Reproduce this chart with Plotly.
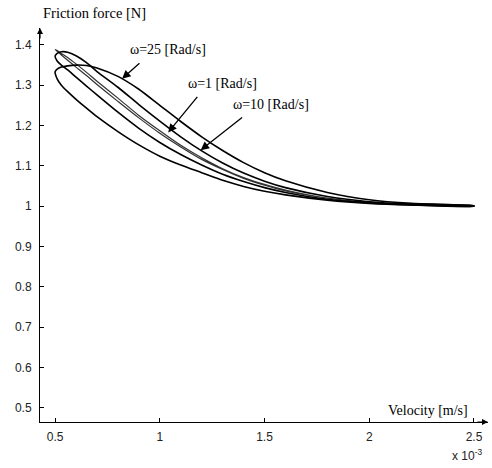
import plotly.graph_objects as go

# Velocity grid [x 1e-3 m/s] shared by all branches
V = [0.5, 0.51, 0.53, 0.56, 0.6, 0.65, 0.7, 0.8, 0.9, 1.0, 1.1, 1.2, 1.3, 1.4, 1.5, 1.6, 1.8, 2.0, 2.2, 2.5]

# Friction force [N] - accelerating (upper) and decelerating (lower) branches
W1_UP = [1.389, 1.386, 1.379, 1.369, 1.353, 1.332, 1.310, 1.268, 1.225, 1.187, 1.151, 1.120, 1.093, 1.071, 1.054, 1.040, 1.020, 1.009, 1.004, 1.001]
W1_LO = [1.389, 1.384, 1.375, 1.362, 1.345, 1.324, 1.302, 1.260, 1.219, 1.181, 1.147, 1.116, 1.091, 1.069, 1.052, 1.038, 1.020, 1.009, 1.004, 1.001]

W10_UP = [1.372, 1.379, 1.383, 1.382, 1.373, 1.356, 1.334, 1.295, 1.252, 1.211, 1.172, 1.137, 1.107, 1.082, 1.062, 1.046, 1.024, 1.011, 1.005, 1.001]
W10_LO = [1.372, 1.360, 1.350, 1.338, 1.320, 1.298, 1.276, 1.233, 1.193, 1.158, 1.128, 1.102, 1.079, 1.061, 1.046, 1.034, 1.017, 1.008, 1.003, 1.000]

W25_UP = [1.333, 1.340, 1.345, 1.348, 1.350, 1.349, 1.343, 1.322, 1.290, 1.250, 1.210, 1.172, 1.138, 1.108, 1.083, 1.063, 1.034, 1.016, 1.007, 1.001]
W25_LO = [1.333, 1.316, 1.300, 1.284, 1.265, 1.243, 1.222, 1.185, 1.152, 1.124, 1.102, 1.083, 1.064, 1.049, 1.037, 1.028, 1.015, 1.007, 1.003, 1.000]

X_TICKS = [0.5, 1.0, 1.5, 2.0, 2.5]
X_TICKTEXT = ["0.5", "1", "1.5", "2", "2.5"]
Y_TICKS = [0.5, 0.6, 0.7, 0.8, 0.9, 1.0, 1.1, 1.2, 1.3, 1.4]
Y_TICKTEXT = ["0.5", "0.6", "0.7", "0.8", "0.9", "1", "1.1", "1.2", "1.3", "1.4"]

LABELS = ["ω=25 [Rad/s]", "ω=1 [Rad/s]", "ω=10 [Rad/s]"]
# arrow tips on the curves (data coords) and label positions (data coords)
TIP_X = [0.82, 1.04, 1.195]
TIP_Y = [1.316, 1.183, 1.139]
LAB_X = [0.85, 1.125, 1.34]
LAB_Y = [1.388, 1.305, 1.253]

SERIF = "Liberation Serif, Times New Roman, serif"
SANS = "Liberation Sans, Arial, sans-serif"

fig = go.Figure()
for up, lo, w, c in [(W1_UP, W1_LO, 1.2, "#333"), (W10_UP, W10_LO, 1.6, "black"), (W25_UP, W25_LO, 1.6, "black")]:
    xs = V + V[::-1]
    ys = up + lo[::-1]
    fig.add_trace(go.Scatter(x=xs, y=ys, mode="lines",
                             line=dict(color=c, width=w, shape="spline", smoothing=0.7),
                             showlegend=False, hoverinfo="skip"))

annotations = []
for lab, tx, ty, lx, ly in zip(LABELS, TIP_X, TIP_Y, LAB_X, LAB_Y):
    annotations.append(dict(x=lx, y=ly, xref="x", yref="y", text=lab, showarrow=False,
                            xanchor="left", yanchor="middle",
                            font=dict(family=SERIF, size=14, color="black")))
    annotations.append(dict(x=tx, y=ty, xref="x", yref="y", ax=lx + 0.06, ay=ly - 0.03,
                            axref="x", ayref="y", text="", showarrow=True,
                            arrowhead=2, arrowsize=1.3, arrowwidth=1.3, arrowcolor="black"))

# axis arrows
annotations.append(dict(x=1, y=0, xref="paper", yref="paper", ax=-12, ay=0, text="",
                        showarrow=True, arrowhead=2, arrowsize=1, arrowwidth=1.2, arrowcolor="black"))
annotations.append(dict(x=0, y=1, xref="paper", yref="paper", ax=0, ay=12, text="",
                        showarrow=True, arrowhead=2, arrowsize=1, arrowwidth=1.2, arrowcolor="black"))
# axis titles
annotations.append(dict(x=0, y=1, xref="paper", yref="paper", text="Friction force [N]",
                        showarrow=False, xanchor="left", yanchor="bottom", xshift=1, yshift=5,
                        font=dict(family=SERIF, size=14.5, color="black")))
annotations.append(dict(x=0.96, y=0, xref="paper", yref="paper", text="Velocity [m/s]",
                        showarrow=False, xanchor="right", yanchor="bottom", yshift=2,
                        font=dict(family=SERIF, size=14, color="black")))
annotations.append(dict(x=1, y=0, xref="paper", yref="paper", text="x 10<sup>-3</sup>",
                        showarrow=False, xanchor="right", yanchor="top", yshift=-23, xshift=-4,
                        font=dict(family=SANS, size=12, color="#222")))

fig.update_layout(
    width=492, height=468,
    margin=dict(l=40, r=4, t=28, b=46),
    plot_bgcolor="white", paper_bgcolor="white",
    annotations=annotations,
    xaxis=dict(range=[0.428, 2.567], tickvals=X_TICKS, ticktext=X_TICKTEXT,
               ticks="inside", ticklen=4, tickcolor="black", showline=True,
               linecolor="black", linewidth=1, showgrid=False, zeroline=False,
               ticklabelstandoff=4, tickfont=dict(family=SANS, size=12, color="#222")),
    yaxis=dict(range=[0.4645, 1.442], tickvals=Y_TICKS, ticktext=Y_TICKTEXT,
               ticks="inside", ticklen=4, tickcolor="black", showline=True,
               linecolor="black", linewidth=1, showgrid=False, zeroline=False,
               ticklabelstandoff=5, tickfont=dict(family=SANS, size=12, color="#222")),
)

fig.write_html("out.html")
